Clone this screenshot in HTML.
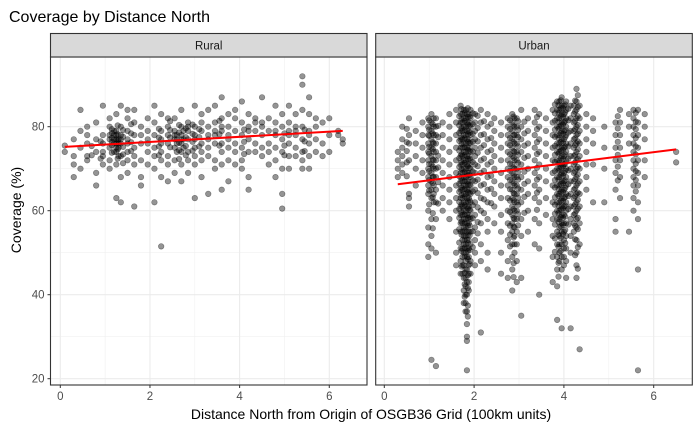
<!DOCTYPE html>
<html><head><meta charset="utf-8"><style>
body{margin:0;background:#fff;}
svg{display:block;font-family:"Liberation Sans",Arial,sans-serif;}
</style></head><body>
<svg id="chart" width="700" height="432">
<text x="9" y="22" font-size="16" fill="#000">Coverage by Distance North</text>
<text x="371" y="419" font-size="14" text-anchor="middle" fill="#000">Distance North from Origin of OSGB36 Grid (100km units)</text>
<text transform="translate(21,210) rotate(-90)" font-size="14" text-anchor="middle" fill="#000">Coverage (%)</text>
<g id="panels"></g>
</svg>
<script>
const yTicks=[20,40,60,80];
const yMinor=[30,50,70];
const xTicks=[0,2,4,6];
const xMinor=[1,3,5];
const panelNames=["Rural","Urban"];
const ruralFit=[[0.1,75.2],[6.3,79.0]];
const urbanFit=[[0.3,66.3],[6.5,74.6]];
const ruralCols=[
[0.1,[74,75.5]],[0.3,[77,71,68,73]],[0.45,[84,79,75,70]],[0.6,[76,72,78,73,80]],[0.8,[69,74,77,81,66]],
[0.95,[85,78,74,71,76,73]],[1.1,[80,77,75,72,70,82,78]],[1.25,[79,77,76,74,71,63,83,78,75]],
[1.35,[78,76,73,68,85,80,77,62]],[1.5,[82,79,77,74,72,69,84,76]],[1.65,[81,78,75,71,61,84,73]],
[1.8,[80,76,72,68,66,78]],[1.95,[79,77,74,71,82,76]],[2.1,[81,78,75,73,70,85,62]],
[2.25,[83,79,76,74,72,68,51.5,77]],[2.4,[80,78,76,73,71,82,67]],[2.55,[82,79,77,75,72,69,78]],
[2.7,[84,80,78,76,74,71,67,77]],[2.85,[81,79,77,74,72,69,80]],[3.0,[85,80,78,75,73,71,63,77]],
[3.15,[83,79,76,74,72,68,81]],[3.3,[84,80,77,75,73,64,78]],[3.45,[85,81,78,76,72,70,79]],
[3.6,[87,82,79,76,74,71,65,80]],[3.75,[83,80,77,75,72,67,78]],[3.9,[82,79,76,74,71,84]],
[4.05,[86,81,78,75,72,70]],[4.2,[83,80,77,74,68,65,79]],[4.35,[82,79,76,74,81]],
[4.5,[87,81,78,75,73,80]],[4.65,[82,79,76,74,71]],[4.8,[85,81,78,75,72,68,79]],
[4.95,[83,80,77,74,70,64,60.5]],[5.1,[85,81,79,76,73,70,78]],[5.25,[83,80,78,75,73,79]],
[5.4,[92,90,84,80,77,74,72,70]],[5.55,[87,83,79,76,73,70,78]],[5.7,[82,80,77,74]],
[5.85,[81,76,73]],[6.0,[82,78,74]],[6.2,[79,78]],[6.3,[76,77]],
[1.2,[78,76,74,79,77]],[1.3,[77,75,73,76]],[2.6,[78,76,74,77]],[2.75,[79,77,75]],
[1.15,[79.4,77.3,75.6,73.8,78.5,76.4]],[1.28,[80.3,78.2,76.8,74.6,72.4]],[1.4,[79.2,77.6,75.2,73.4,71.3]],
[1.58,[80.6,78.4,76.3,74.2]],[2.2,[79.5,77.4,75.3,73.2]],[2.45,[81.3,79.2,77.4,75.1]],
[2.65,[80.4,78.6,76.2,74.4,72.3]],[2.8,[79.6,77.5,75.4,73.2]],[2.95,[80.5,78.3,76.4,74.3]],
[3.1,[79.4,77.5,75.3]],[3.55,[81.4,78.2,75.5]],[4.1,[79.3,76.4,73.5]],[5.0,[78.4,75.5,73.2]],
[5.45,[79.3,76.5,74.2]],[0.7,[75.4,73.2]],[0.9,[76.5,72.4]]
];
const urbanCols=[
[0.3,[74,72,70,68]],[0.4,[80,77,75,73,71,69]],[0.55,[82,78,76,72,64,61,63]],[0.7,[79,76,73,70,66]],
[0.85,[81,78,75,72,69]],[0.98,[82,80,78,76,74,72,70,68,66,64,60,56,52,49]],
[1.05,[83,81,79,77,75,73,71,69,67,65,63,58,54,51,24.5]],[1.1,[82,80,78,76,74,72,70,68,66,64,62]],
[1.15,[82,80,78,76,74,72,70,68,65,62,58,50,23]],[1.3,[81,78,75,72,69,66,63,60]],
[1.45,[83,80,77,74,71,68,65,62,58]],[1.6,[84,81,78,75,72,69,66,63,60,55,50,47]],
[1.7,[85,83,81,79,77,75,73,71,69,67,65,63,61,59,57,55,51,48,45]],
[1.74,[83,81,79,77,75,73,71,69,67,65,63,61,59,57,55,53,51,49,47,45]],
[1.77,[84,82,80,78,76,74,72,70,68,66,64,62,60,58,56,54,52,50,47,44,41,38]],
[1.81,[84,82,80,78,76,74,72,70,68,66,64,62,60,58,56,54,52,50,48,46,44,42,40,38,36]],
[1.84,[83,81,79,77,75,73,71,69,67,65,63,61,59,57,55,53,51,49,46,43,40,36,33,30,29,22]],
[1.88,[83,81,79,77,75,73,71,69,67,65,63,61,59,57,55,53,51,49,47,45,43,41]],
[1.92,[84,82,80,78,76,74,72,70,68,66,64,62,60,58,55,52,48,45]],
[2.02,[83,81,79,77,75,73,71,69,67,65,62,59,56,53,50,47]],
[2.15,[84,81,78,75,72,69,66,63,60,57,52,48,31]],[2.3,[83,80,77,74,71,68,65,62,58,55,50,46]],
[2.45,[82,79,76,73,70,67,64,61,57]],[2.6,[81,78,75,72,69,66,63,59,55,50,45]],
[2.75,[82,80,78,76,74,72,70,68,66,63,60,57,53,48,44]],
[2.85,[83,81,79,77,75,73,71,69,67,65,63,61,59,57,55,52,49,46,41]],
[2.9,[82,80,78,76,74,72,70,68,66,64,62,60,58,56,54,52,50]],
[2.95,[82,80,78,76,74,72,70,68,66,64,62,60,58,55,52,48,43]],
[3.05,[84,80,77,74,71,68,65,62,58,54,44,35]],[3.2,[82,79,76,73,70,67,64,60,55]],
[3.35,[84,81,78,75,72,69,66,63,58,52]],[3.45,[83,80,77,74,71,68,65,62,57,51,40]],
[3.6,[82,79,76,73,70,67,63,59]],[3.75,[84,81,78,75,72,69,66,62,58,54,49,43]],
[3.85,[86,84,82,80,78,76,74,72,70,68,66,64,62,60,58,55,52,49,46,42,34]],
[3.9,[86,84,82,80,78,76,74,72,70,68,66,64,62,60,58,56,54,52,50,48]],
[3.95,[87,85,83,81,79,77,75,73,71,69,67,65,63,61,59,57,55,52,49,46,32]],
[4.0,[85,83,81,79,77,75,73,71,69,67,65,63,61,59,57,55,53,51,49,47]],
[4.05,[86,84,82,80,78,76,74,72,70,68,66,64,62,60,57,54,51,48,44]],
[4.15,[85,82,79,76,73,70,67,64,61,58,54,50,32]],
[4.22,[85,83,81,79,77,75,73,71,69,67,65,63,61,59,57,55]],
[4.28,[89,86,84,82,80,78,76,74,72,70,68,66,64,62,60,58,56,53,50,47,44]],
[4.35,[85,82,79,76,73,70,67,64,61,57,52,27]],[4.5,[83,80,77,74,71,68,65]],
[4.65,[82,79,76,71,62]],[4.9,[80,75,70,62]],[5.15,[81,78,75,72,69,65,58,55]],
[5.25,[84,81,78,75,72,68,63]],[5.45,[83,80,76,55]],
[5.55,[84,82,80,78,76,74,72,70,68,66,63,60]],[5.65,[84,81,78,75,72,69,66,62,58,46,22]],
[5.8,[83,80,77,72,68]],[6.5,[74,71.5]],
[1.0,[81.5,79.3,77.8,75.2,73.6,71.1,69.4,67.3,64.8,61.5]],
[1.08,[80.6,78.4,76.3,74.7,72.2,70.5,68.1,66.6,63.2,59.4,55.8]],
[1.2,[80.2,77.5,73.1,70.3,66.8,61.7]],
[1.67,[82.5,80.3,78.5,76.6,74.3,72.5,70.4,68.2,66.4,64.5,62.1,60.4,58.3,55.6,52.4]],
[1.72,[84.2,81.7,79.6,77.4,75.8,73.4,71.6,69.8,67.7,65.5,63.7,61.5,59.6,57.4,54.3,50.4,46.7]],
[1.79,[83.3,81.4,79.3,77.2,75.1,73.3,71.4,69.3,67.1,65.2,63.4,61.3,59.1,57.2,55.3,53.1,51.2,49.1,45.2,42.5,39.5]],
[1.86,[84.4,82.3,80.5,78.2,76.4,74.5,72.3,70.6,68.4,66.3,64.4,62.2,60.5,58.3,56.4,54.2,52.3,50.4,48.5,44.6,41.6,37.4,34.8]],
[1.9,[82.4,80.3,78.6,76.2,74.3,72.4,70.2,68.5,66.2,64.3,62.5,60.2,58.4,56.5,54.1,50.6,47.3]],
[1.97,[83.2,80.6,78.3,76.4,74.1,71.6,69.3,67.2,64.6,61.3,58.2,55.1,51.3]],
[2.08,[82.6,79.7,76.5,73.8,70.6,67.4,64.2,60.8,57.3,54.6]],
[2.22,[81.3,78.2,75.6,72.4,69.5,66.3,62.7,59.4]],
[2.38,[80.7,77.3,74.4,71.6,68.3,65.2,61.8]],
[2.8,[81.5,79.4,77.3,75.6,73.4,71.2,69.5,67.3,65.1,62.4,59.7,56.4,54.3,51.5]],
[2.88,[82.4,80.3,78.1,76.4,74.2,72.6,70.3,68.4,66.5,64.2,62.5,60.4,58.3,56.2,53.6,47.5,44.2]],
[2.98,[81.3,79.2,77.5,75.3,73.3,71.4,69.2,67.4,65.3,63.1,61.4,59.2,56.5]],
[3.12,[81.2,78.4,75.5,72.6,69.3,66.4,63.3,59.5]],
[3.4,[82.3,79.4,76.3,73.5,70.2,67.4,64.3,60.2]],
[3.8,[85.3,83.2,81.4,79.3,77.6,75.4,73.3,71.6,69.4,67.3,65.5,63.2,61.4,59.3,56.7,53.4,50.2]],
[3.88,[85.1,83.3,81.2,79.5,77.3,75.2,73.6,71.3,69.5,67.4,65.2,63.5,61.2,59.4,57.3,54.3,51.4,47.6,44.3]],
[3.93,[86.3,84.4,82.6,80.3,78.5,76.4,74.3,72.5,70.4,68.6,66.3,64.5,62.4,60.3,58.5,56.3,53.5,50.4]],
[3.98,[84.4,82.3,80.5,78.3,76.2,74.5,72.3,70.5,68.3,66.5,64.4,62.3,60.5,58.3,56.6,54.4]],
[4.03,[85.3,83.4,81.3,79.2,77.5,75.3,73.4,71.2,69.5,67.2,65.4,63.3,61.2,58.6,55.4,52.3]],
[4.1,[84.3,81.5,78.6,75.3,72.4,69.6,66.3,63.5,60.4,56.7]],
[4.25,[86.2,83.6,81.3,79.4,77.2,75.6,73.3,71.5,69.3,67.5,65.3,63.4,61.5,59.3,56.4,53.2,49.4]],
[4.31,[87.5,84.7,82.5,80.4,78.3,76.5,74.6,72.3,70.4,68.6,66.5,64.3,62.6,60.5,58.3,55.6,51.3,46.2]],
[5.6,[83.3,81.2,79.4,77.3,75.3,73.4,71.2,69.4,67.3,64.6]],
[5.2,[82.5,79.6,76.4,73.3,70.5,67.2]],
[0.5,[79.5,76.3,74.2,71.5,68.2]]
];
const NS="http://www.w3.org/2000/svg";
const top0=57,bot0=385;
function yScale(v){return 126.7+(80-v)*4.2;}
const panels=[
 {name:panelNames[0],x0:50.5,x1:367,zero:60.3,k:44.83,cols:ruralCols,fit:ruralFit},
 {name:panelNames[1],x0:375.7,x1:692.3,zero:384.3,k:44.9,cols:urbanCols,fit:urbanFit}
];
const g=document.getElementById('panels');
function mk(tag,attrs,parent){const e=document.createElementNS(NS,tag);for(const a in attrs)e.setAttribute(a,attrs[a]);(parent||g).appendChild(e);return e;}
panels.forEach((p,pi)=>{
 const xs=v=>p.zero+v*p.k;
 const pg=mk('g',{});
 
 
 mk('rect',{x:p.x0,y:top0,width:p.x1-p.x0,height:bot0-top0,fill:'#fff'},pg);
 yMinor.forEach(v=>mk('line',{x1:p.x0,x2:p.x1,y1:yScale(v),y2:yScale(v),stroke:'#f0f0f0','stroke-width':0.6},pg));
 xMinor.forEach(v=>mk('line',{x1:xs(v),x2:xs(v),y1:top0,y2:bot0,stroke:'#f0f0f0','stroke-width':0.6},pg));
 yTicks.forEach(v=>mk('line',{x1:p.x0,x2:p.x1,y1:yScale(v),y2:yScale(v),stroke:'#ebebeb','stroke-width':1.1},pg));
 xTicks.forEach(v=>mk('line',{x1:xs(v),x2:xs(v),y1:top0,y2:bot0,stroke:'#ebebeb','stroke-width':1.1},pg));
 p.cols.forEach(c=>{c[1].forEach(v=>{
   const pt=mk('circle',{cx:xs(c[0]),cy:yScale(v),r:2.8,fill:'#000','fill-opacity':0.42,stroke:'#000','stroke-opacity':0.42,'stroke-width':0.6},pg);
   
   
 });});
 const fl=mk('line',{x1:xs(p.fit[0][0]),y1:yScale(p.fit[0][1]),x2:xs(p.fit[1][0]),y2:yScale(p.fit[1][1]),stroke:'#ff0000','stroke-width':2},pg);
 
 
 mk('rect',{x:p.x0,y:top0,width:p.x1-p.x0,height:bot0-top0,fill:'none',stroke:'#333','stroke-width':1.1},pg);
 const st=mk('rect',{x:p.x0,y:33.5,width:p.x1-p.x0,height:top0-33.5,fill:'#d9d9d9',stroke:'#333','stroke-width':1.1},pg);
 
 
 const stt=mk('text',{x:(p.x0+p.x1)/2,y:49.5,'font-size':11.5,'text-anchor':'middle',fill:'#1a1a1a'},pg);
 stt.textContent=p.name;
 
 
 xTicks.forEach(v=>{
   mk('line',{x1:xs(v),x2:xs(v),y1:bot0,y2:bot0+3,stroke:'#333','stroke-width':1},pg);
   const t=mk('text',{x:xs(v),y:bot0+15,'font-size':11.5,'text-anchor':'middle',fill:'#4d4d4d'},pg);
   t.textContent=v;
   
   
 });
 if(pi===0){yTicks.forEach(v=>{
   mk('line',{x1:p.x0-3,x2:p.x0,y1:yScale(v),y2:yScale(v),stroke:'#333','stroke-width':1},pg);
   const t=mk('text',{x:p.x0-6,y:yScale(v)+4,'font-size':11.5,'text-anchor':'end',fill:'#4d4d4d'},pg);
   t.textContent=v;
   
   
 });}
});
</script>
</body></html>
